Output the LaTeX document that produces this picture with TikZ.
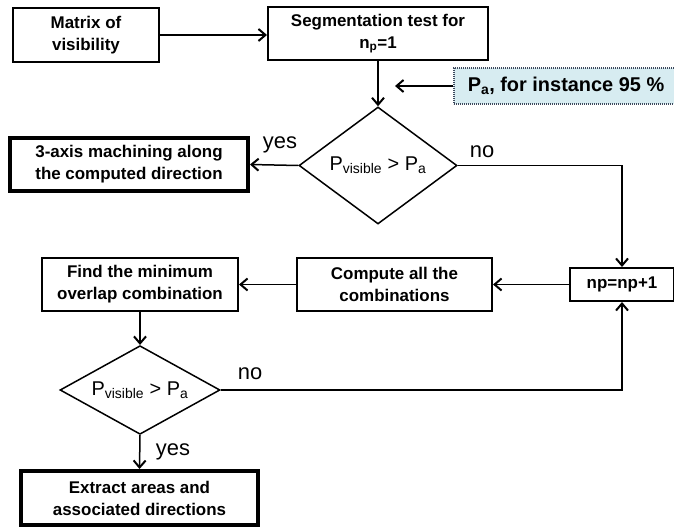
\documentclass[tikz,border=0pt]{standalone}
\usepackage{fontspec}
\setmainfont{Liberation Sans}
\usetikzlibrary{arrows.meta,shapes.geometric}
\definecolor{pafill}{RGB}{215,236,241}
\definecolor{paborder}{RGB}{60,72,92}
\begin{document}
\begin{tikzpicture}[x=1bp,y=-1bp,
  boxtext/.style={font=\fontsize{17}{22}\selectfont\bfseries, align=center},
  box/.style={draw, line width=2bp, rectangle, inner sep=0pt, boxtext, minimum height=53bp},
  thickbox/.style={box, line width=4bp},
  decision/.style={draw, diamond, line width=1.5bp, inner sep=0pt, font=\fontsize{20}{24}\selectfont, shape aspect=1.35},
  lbl/.style={font=\fontsize{22}{26}\selectfont, inner sep=0pt},
  conn/.style={line width=1.5bp, -{Straight Barb[length=7bp,width=12bp,line width=2bp]}},
]
\useasboundingbox (0,0) rectangle (674,527);

\node[box, minimum width=146bp, minimum height=54bp] (mat) at (86,35) {Matrix of\\visibility};
\node[box, minimum width=220bp] (seg) at (378,33.5) {Segmentation test for\\n\textsubscript{p}=1};
\node[draw=paborder, fill=pafill, line width=1.5bp, dash pattern=on 1bp off 1bp,
      minimum width=224bp, minimum height=36bp, inner sep=0pt,
      font=\fontsize{20}{24}\selectfont\bfseries] (pa) at (566,86) {P\textsubscript{a}, for instance 95 \%};
\coordinate (paend) at (395,86);

\node[decision, minimum width=158bp, minimum height=117bp] (d1) at (378,165.5) {P\textsubscript{visible} > P\textsubscript{a}};
\node[thickbox, minimum width=238bp] (axis) at (129,164.5) {3-axis machining along\\the computed direction};

\node[box, minimum width=104bp, minimum height=33bp] (np) at (622,284.5) {np=np+1};
\node[box, minimum width=195bp] (comp) at (394.5,284.5) {Compute all the\\combinations};
\node[box, minimum width=196bp] (find) at (140,284.5) {Find the minimum\\overlap combination};

\node[decision, minimum width=160bp, minimum height=84bp] (d2) at (140,390) {P\textsubscript{visible} > P\textsubscript{a}};
\node[thickbox, minimum width=237bp, minimum height=54bp] (ext) at (139.5,498) {Extract areas and\\associated directions};

\node[lbl] (yes1) at (280,145) {yes};
\node[lbl] (no1) at (482,152) {no};
\node[lbl] (no2) at (250,374) {no};
\node[lbl] (yes2) at (173,452) {yes};

\draw[conn] (mat.east) -- (seg.west |- mat.east);
\draw[conn] (seg.south) -- (d1.north);
\draw[conn] (pa.west) -- (paend);
\draw[conn] (d1.west) -- (axis.east);
\draw[conn] (d1.east) -| (np.north);
\draw[conn] (np.west) -- (comp.east);
\draw[conn] (comp.west) -- (find.east);
\draw[conn] (find.south) -- (d2.north);
\draw[conn] (d2.east) -| (np.south);
\draw[conn] (d2.south) -- (ext.north);
\end{tikzpicture}
\end{document}
